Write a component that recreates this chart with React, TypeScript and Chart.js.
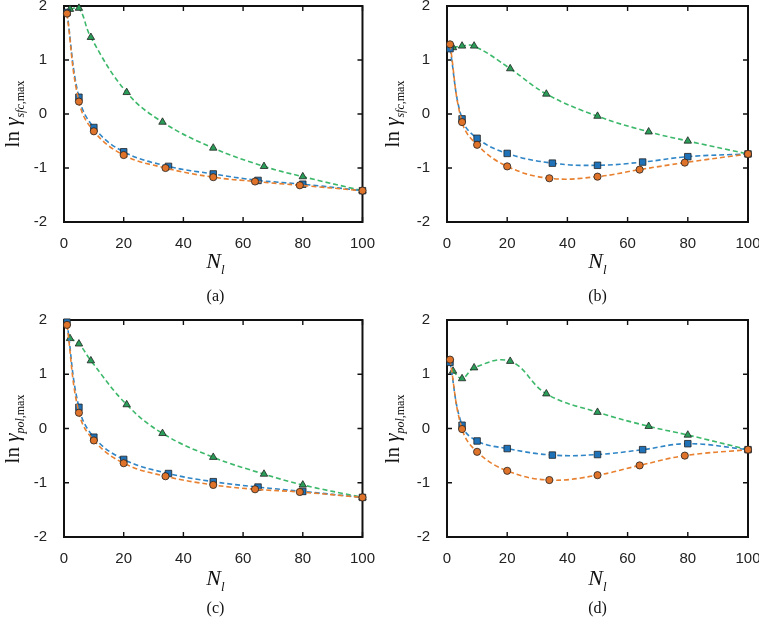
import React, { useEffect, useRef } from "react";
import { Chart, registerables } from "chart.js";
Chart.register(...registerables);

// x positions of markers per series
const xOrange = [1, 5, 10, 20, 34, 50, 64, 79, 100];
const xBlue = [1, 5, 10, 20, 35, 50, 65, 80, 100];
const xGreen = [2, 5, 9, 21, 33, 50, 67, 80, 100];

// panel (a)
const aOrange = [1.86, 0.23, -0.32, -0.76, -1.0, -1.17, -1.25, -1.32, -1.42];
const aBlue = [1.88, 0.31, -0.25, -0.7, -0.97, -1.11, -1.23, -1.3, -1.42];
const aGreen = [1.94, 1.96, 1.42, 0.4, -0.15, -0.63, -0.97, -1.16, -1.42];
// panel (b)
const bOrange = [1.29, -0.15, -0.57, -0.97, -1.19, -1.16, -1.03, -0.9, -0.74];
const bBlue = [1.21, -0.09, -0.45, -0.73, -0.91, -0.95, -0.89, -0.79, -0.74];
const bGreen = [1.23, 1.26, 1.26, 0.84, 0.37, -0.04, -0.33, -0.5, -0.74];
// panel (c)
const cOrange = [1.91, 0.29, -0.22, -0.64, -0.88, -1.04, -1.12, -1.17, -1.27];
const cBlue = [1.96, 0.39, -0.16, -0.57, -0.83, -0.98, -1.08, -1.16, -1.27];
const cGreen = [1.66, 1.56, 1.25, 0.44, -0.09, -0.53, -0.84, -1.04, -1.27];
// panel (d)
const dOrange = [1.27, -0.01, -0.43, -0.78, -0.95, -0.86, -0.68, -0.5, -0.39];
const dBlue = [1.22, 0.06, -0.23, -0.37, -0.49, -0.48, -0.39, -0.28, -0.39];
const dGreen = [1.06, 0.92, 1.12, 1.24, 0.64, 0.3, 0.04, -0.12, -0.39];

const xMin = 0, xMax = 100, xStep = 20;
const yMin = -2, yMax = 2, yStep = 1;

const ORANGE_FILL = "#e0732a";
const ORANGE_LINE = "#e8802f";
const BLUE_FILL = "#1f72b8";
const BLUE_LINE = "#2f85c6";
const GREEN_FILL = "#2a9d58";
const GREEN_LINE = "#3cb86a";

const SERIF = '"Liberation Serif", "DejaVu Serif", "Times New Roman", serif';
const SANS = '"Liberation Sans", Arial, sans-serif';

const framePlugin = {
  id: "frame",
  beforeDatasetsDraw(chart: any) {
    const { ctx, chartArea: a, scales } = chart;
    const xs = scales.x, ys = scales.y;
    ctx.save();
    ctx.strokeStyle = "#111";
    ctx.lineWidth = 2;
    ctx.strokeRect(a.left, a.top, a.right - a.left, a.bottom - a.top);
    ctx.lineWidth = 1.4;
    const L = 5;
    ctx.beginPath();
    xs.ticks.forEach((t: any) => {
      const px = xs.getPixelForValue(t.value);
      ctx.moveTo(px, a.bottom);
      ctx.lineTo(px, a.bottom - L);
      ctx.moveTo(px, a.top);
      ctx.lineTo(px, a.top + L);
    });
    ys.ticks.forEach((t: any) => {
      const py = ys.getPixelForValue(t.value);
      ctx.moveTo(a.left, py);
      ctx.lineTo(a.left + L, py);
      ctx.moveTo(a.right, py);
      ctx.lineTo(a.right - L, py);
    });
    ctx.stroke();
    ctx.restore();
  },
};

type PanelProps = {
  cLeft: number; cTop: number; cW: number; cH: number;
  pL: number; pR: number; pT: number; pB: number;
  orange: number[]; blue: number[]; green: number[];
};

function PanelChart(p: PanelProps) {
  const ref = useRef<HTMLCanvasElement | null>(null);
  useEffect(() => {
    if (!ref.current) return;
    const mk = (xs: number[], ys: number[]) => xs.map((x, i) => ({ x, y: ys[i] }));
    const common = {
      showLine: true,
      borderWidth: 1.6,
      borderDash: [5, 3],
      tension: 0.4,
      pointBorderColor: "#222",
      pointBorderWidth: 0.8,
      clip: 6,
    };
    const chart = new Chart(ref.current, {
      type: "scatter",
      data: {
        datasets: [
          { ...common, data: mk(xOrange, p.orange), borderColor: ORANGE_LINE, pointBackgroundColor: ORANGE_FILL, pointStyle: "circle", pointRadius: 3.6 },
          { ...common, data: mk(xBlue, p.blue), borderColor: BLUE_LINE, pointBackgroundColor: BLUE_FILL, pointStyle: "rect", pointRadius: 4.6 },
          { ...common, data: mk(xGreen, p.green), borderColor: GREEN_LINE, pointBackgroundColor: GREEN_FILL, pointStyle: "triangle", pointRadius: 4.3 },
        ] as any,
      },
      options: {
        animation: false,
        responsive: false,
        maintainAspectRatio: false,
        layout: {
          padding: { left: 0, top: p.pT - p.cTop, right: p.cLeft + p.cW - p.pR, bottom: 0 },
        },
        plugins: { legend: { display: false }, tooltip: { enabled: false } },
        scales: {
          x: {
            type: "linear",
            min: xMin, max: xMax,
            grid: { display: false },
            border: { display: false },
            ticks: { stepSize: xStep, padding: 5, color: "#222", font: { family: SANS, size: 15 } },
            afterFit: (s: any) => { s.height = p.cTop + p.cH - p.pB; },
          },
          y: {
            type: "linear",
            min: yMin, max: yMax,
            grid: { display: false },
            border: { display: false },
            ticks: { stepSize: yStep, padding: 9, color: "#222", font: { family: SANS, size: 15 } },
            afterFit: (s: any) => { s.width = p.pL - p.cLeft; },
          },
        },
      } as any,
      plugins: [framePlugin],
    });
    return () => chart.destroy();
  }, []);
  return (
    <canvas
      ref={ref}
      width={p.cW}
      height={p.cH}
      style={{ position: "absolute", left: p.cLeft, top: p.cTop, width: p.cW, height: p.cH, display: "block" }}
    />
  );
}

type Labels = { pL: number; pR: number; pT: number; pB: number; yTitleX: number; nY: number; letterY: number; letter: string; sub: string };

function PanelLabels(l: Labels) {
  const cx = (l.pL + l.pR) / 2;
  const cy = (l.pT + l.pB) / 2;
  return (
    <>
      <div
        style={{
          position: "absolute", left: l.yTitleX, top: cy,
          transform: "translate(-50%, -50%) rotate(-90deg)",
          whiteSpace: "nowrap", fontFamily: SERIF, fontSize: 21, color: "#111", lineHeight: "24px",
        }}
      >
        ln <i>γ</i>
        <span style={{ fontSize: 12, position: "relative", top: 5 }}>
          <i>{l.sub}</i>,max
        </span>
      </div>
      <div
        style={{
          position: "absolute", left: cx, top: l.nY, transform: "translate(-50%, -50%)",
          whiteSpace: "nowrap", fontFamily: SERIF, fontSize: 22, color: "#111", lineHeight: "26px",
        }}
      >
        <i>N</i>
        <span style={{ fontSize: 13, position: "relative", top: 6 }}><i>l</i></span>
      </div>
      <div
        style={{
          position: "absolute", left: cx, top: l.letterY, transform: "translate(-50%, -50%)",
          whiteSpace: "nowrap", fontFamily: SERIF, fontSize: 16, color: "#111", lineHeight: "18px",
        }}
      >
        {l.letter}
      </div>
    </>
  );
}

export default function App() {
  const top = { pT: 5, pB: 222 };
  const bot = { pT: 320, pB: 537 };
  const leftCol = { pL: 64, pR: 367 };
  const rightCol = { pL: 447, pR: 748 };
  return (
    <div style={{ position: "fixed", left: 0, top: 0, width: 759, height: 618, background: "#fff", overflow: "hidden" }}>
      <PanelChart cLeft={0} cTop={-12} cW={380} cH={312} {...leftCol} {...top} orange={aOrange} blue={aBlue} green={aGreen} />
      <PanelChart cLeft={380} cTop={-12} cW={400} cH={312} {...rightCol} {...top} orange={bOrange} blue={bBlue} green={bGreen} />
      <PanelChart cLeft={0} cTop={300} cW={380} cH={318} {...leftCol} {...bot} orange={cOrange} blue={cBlue} green={cGreen} />
      <PanelChart cLeft={380} cTop={300} cW={400} cH={318} {...rightCol} {...bot} orange={dOrange} blue={dBlue} green={dGreen} />
      <PanelLabels {...leftCol} {...top} yTitleX={13} nY={262} letterY={296} letter="(a)" sub="sfc" />
      <PanelLabels {...rightCol} {...top} yTitleX={393} nY={262} letterY={296} letter="(b)" sub="sfc" />
      <PanelLabels {...leftCol} {...bot} yTitleX={13} nY={579} letterY={608} letter="(c)" sub="pol" />
      <PanelLabels {...rightCol} {...bot} yTitleX={393} nY={579} letterY={608} letter="(d)" sub="pol" />
    </div>
  );
}
